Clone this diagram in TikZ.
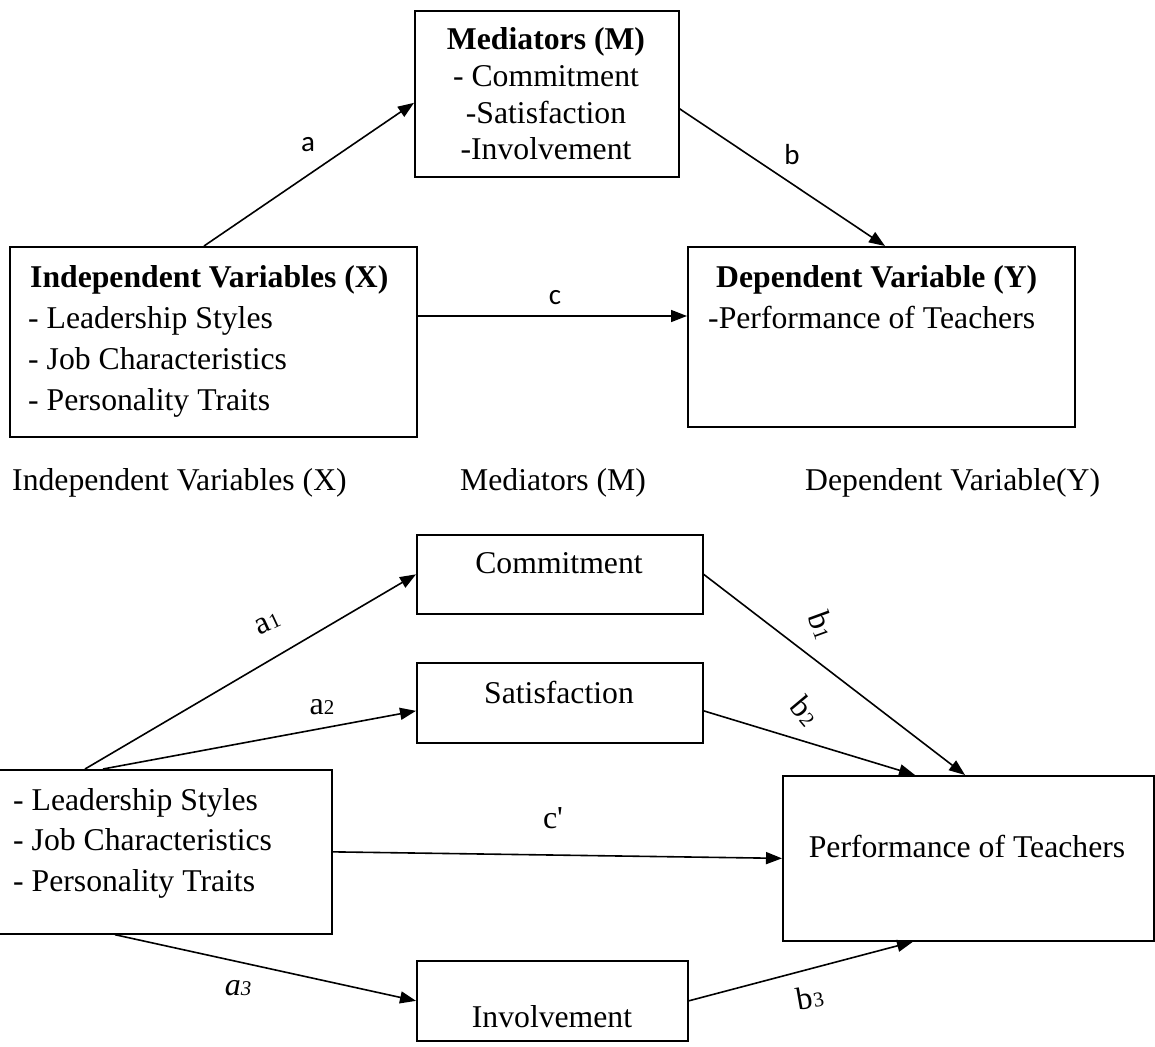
\documentclass[tikz,border=0pt]{standalone}
\usepackage{fontspec}
\setmainfont{Liberation Serif}
\newfontfamily\lblfont{Carlito}
\usetikzlibrary{arrows.meta,calc}
\newcommand\sbs[1]{{\fontsize{21}{24}\selectfont #1}}

\begin{document}
\begin{tikzpicture}[x=1pt,y=-1pt,
  box/.style={draw, line width=1.7pt, inner sep=0pt},
  link/.style={line width=1.6pt, -{Triangle[length=16pt,width=12pt]}},
  txt/.style={inner sep=0pt, font=\fontsize{31.7}{40}\selectfont},
  btxt/.style={inner sep=0pt, font=\fontsize{31.7}{40}\selectfont\bfseries},
  sanslbl/.style={inner sep=0pt, font=\fontsize{29}{34}\lblfont},
  sublbl/.style={inner sep=0pt, font=\fontsize{32}{36}\selectfont},
]
\useasboundingbox (0,0) rectangle (1155,1046);

% ---------- simple mediation model ----------
\node[box, anchor=north west, minimum width=407pt, minimum height=190pt] (iv) at (9,246) {};
\node[box, anchor=north west, minimum width=264pt, minimum height=166pt] (med) at (414,10) {};
\node[box, anchor=north west, minimum width=387pt, minimum height=180pt] (dv) at (687,246) {};

\node[btxt, anchor=base west] (iv-h) at (30,287) {Independent Variables (X)};
\node[txt, anchor=base west] (iv-1) at (28,328) {- Leadership Styles};
\node[txt, anchor=base west] (iv-2) at (28,369) {- Job Characteristics};
\node[txt, anchor=base west] (iv-3) at (28,410) {- Personality Traits};

\node[btxt, anchor=base] (med-h) at (546,50) {Mediators (M)};
\node[txt, anchor=base] (med-1) at (546,87) {- Commitment};
\node[txt, anchor=base] (med-2) at (546,123) {-Satisfaction};
\node[txt, anchor=base] (med-3) at (546,159) {-Involvement};

\node[btxt, anchor=base west] (dv-h) at (716,287) {Dependent Variable (Y)};
\node[txt, anchor=base west] (dv-1) at (708,328) {-Performance of Teachers};

\draw[link] ($(iv.north west)+(195,0)$) -- ($(med.west)+(0,9)$);
\draw[link] ($(med.east)+(0,15)$) -- ($(dv.north west)+(198,0)$);
\coordinate (c-start) at ($(iv.north east)+(0,70)$);
\draw[link] (c-start) -- (c-start -| dv.west);

\node[sanslbl] (lbl-a) at (308,145) {a};
\node[sanslbl] (lbl-b) at (792,155) {b};
\node[sanslbl] (lbl-c) at (555,298) {c};

% ---------- captions ----------
\node[txt, anchor=base west] (cap-x) at (12,490) {Independent Variables (X)};
\node[txt, anchor=base west] (cap-m) at (460,490) {Mediators (M)};
\node[txt, anchor=base west] (cap-y) at (805,490) {Dependent Variable(Y)};

% ---------- parallel mediation model ----------
\node[box, anchor=north west, minimum width=334pt, minimum height=164pt] (ivb) at (-3,769) {};
\node[box, anchor=north west, minimum width=286pt, minimum height=79pt] (com) at (416,534) {};
\node[box, anchor=north west, minimum width=286pt, minimum height=80pt] (sat) at (416,662) {};
\node[box, anchor=north west, minimum width=271pt, minimum height=80pt] (inv) at (416,960) {};
\node[box, anchor=north west, minimum width=371pt, minimum height=165pt] (perf) at (782,775) {};

\node[txt, anchor=base west] (ivb-1) at (13,810) {- Leadership Styles};
\node[txt, anchor=base west] (ivb-2) at (13,850) {- Job Characteristics};
\node[txt, anchor=base west] (ivb-3) at (13,891) {- Personality Traits};

\node[txt, anchor=base] (com-t) at (559,573) {Commitment};
\node[txt, anchor=base] (sat-t) at (559,703) {Satisfaction};
\node[txt, anchor=base] (inv-t) at (552,1027) {Involvement};
\node[txt, anchor=base] (perf-t) at (967,857) {Performance of Teachers};

\draw[link] ($(ivb.north west)+(88,0)$) -- (com.west);
\draw[link] ($(ivb.north west)+(106,0)$) -- ($(sat.west)+(0,8)$);
\draw[link] (ivb.east) -- (perf.west);
\draw[link] ($(ivb.south west)+(118,0)$) -- (inv.west);
\draw[link] (com.east) -- ($(perf.north west)+(183,0)$);
\draw[link] ($(sat.east)+(0,8)$) -- ($(perf.north west)+(133,0)$);
\draw[link] (inv.east) -- ($(perf.south west)+(131,0)$);

\node[sublbl, rotate=25] (lbl-a1) at (268,624) {a\sbs{1}};
\node[sublbl] (lbl-a2) at (322,707) {a\sbs{2}};
\node[sublbl] (lbl-a3) at (238,988) {\itshape a\sbs{3}};
\node[sublbl, rotate=-70] (lbl-b1) at (822,625) {b\sbs{1}};
\node[sublbl, rotate=-50] (lbl-b2) at (805,711) {b\sbs{2}};
\node[sublbl, rotate=10] (lbl-b3) at (810,997) {b\sbs{3}};
\node[sublbl] (lbl-c1) at (553,818) {c\textquotesingle};
\end{tikzpicture}
\end{document}
